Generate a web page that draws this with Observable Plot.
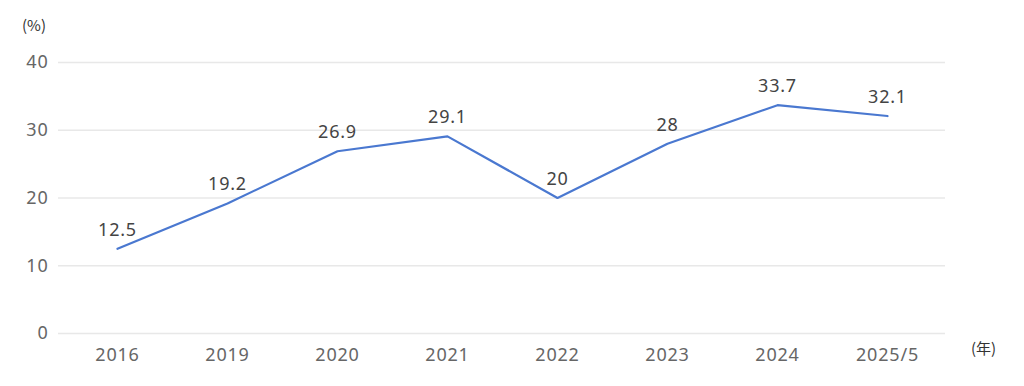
<!DOCTYPE html>
<html><head><meta charset="utf-8">
<script src="https://cdn.jsdelivr.net/npm/d3@7"></script>
<script src="https://cdn.jsdelivr.net/npm/@observablehq/plot@0.6"></script>
<style>
body{margin:0;background:#fff;font-family:"Noto Sans","Noto Sans CJK JP",sans-serif;}
#wrap{position:relative;width:1024px;height:386px;}
.unit{position:absolute;font-size:15px;color:#333;font-family:"Noto Sans CJK JP",sans-serif;line-height:1;}
</style></head><body>
<div id="wrap">
<div class="unit" style="left:22px;top:17px;">(%)</div>
<div class="unit" style="left:971px;top:340px;">(年)</div>
</div>
<script>
const years = ["2016","2019","2020","2021","2022","2023","2024","2025/5"];
const values = [12.5,19.2,26.9,29.1,20,28,33.7,32.1];
const yTicks = [0,10,20,30,40];
const data = years.map((y,i)=>({year:y, value:values[i]}));
const chart = Plot.plot({
  width:1024, height:386,
  marginLeft:58, marginRight:79, marginTop:62, marginBottom:53,
  style:{fontFamily:'"Noto Sans","Noto Sans CJK JP",sans-serif', background:"#fff", letterSpacing:"0.8px"},
  x:{type:"point", domain:years, padding:0.5, label:null},
  y:{domain:[0,40], label:null},
  marks:[
    Plot.gridY(yTicks,{stroke:"#e8e8e8", strokeOpacity:1, strokeWidth:1.5}),
    Plot.axisY(yTicks,{tickSize:0, tickPadding:10, fontSize:18, fill:"#666", label:null}),
    Plot.axisX({tickSize:0, tickPadding:15, fontSize:18, fill:"#666", label:null}),
    Plot.line(data,{x:"year", y:"value", stroke:"#4a78d0", strokeWidth:2.2}),
    Plot.text(data,{x:"year", y:"value", text:d=>String(d.value), dy:-19, fontSize:18, fill:"#444"})
  ]
});
document.getElementById("wrap").prepend(chart);
chart.style.position="absolute"; chart.style.left="0"; chart.style.top="0";
</script>
</body></html>
